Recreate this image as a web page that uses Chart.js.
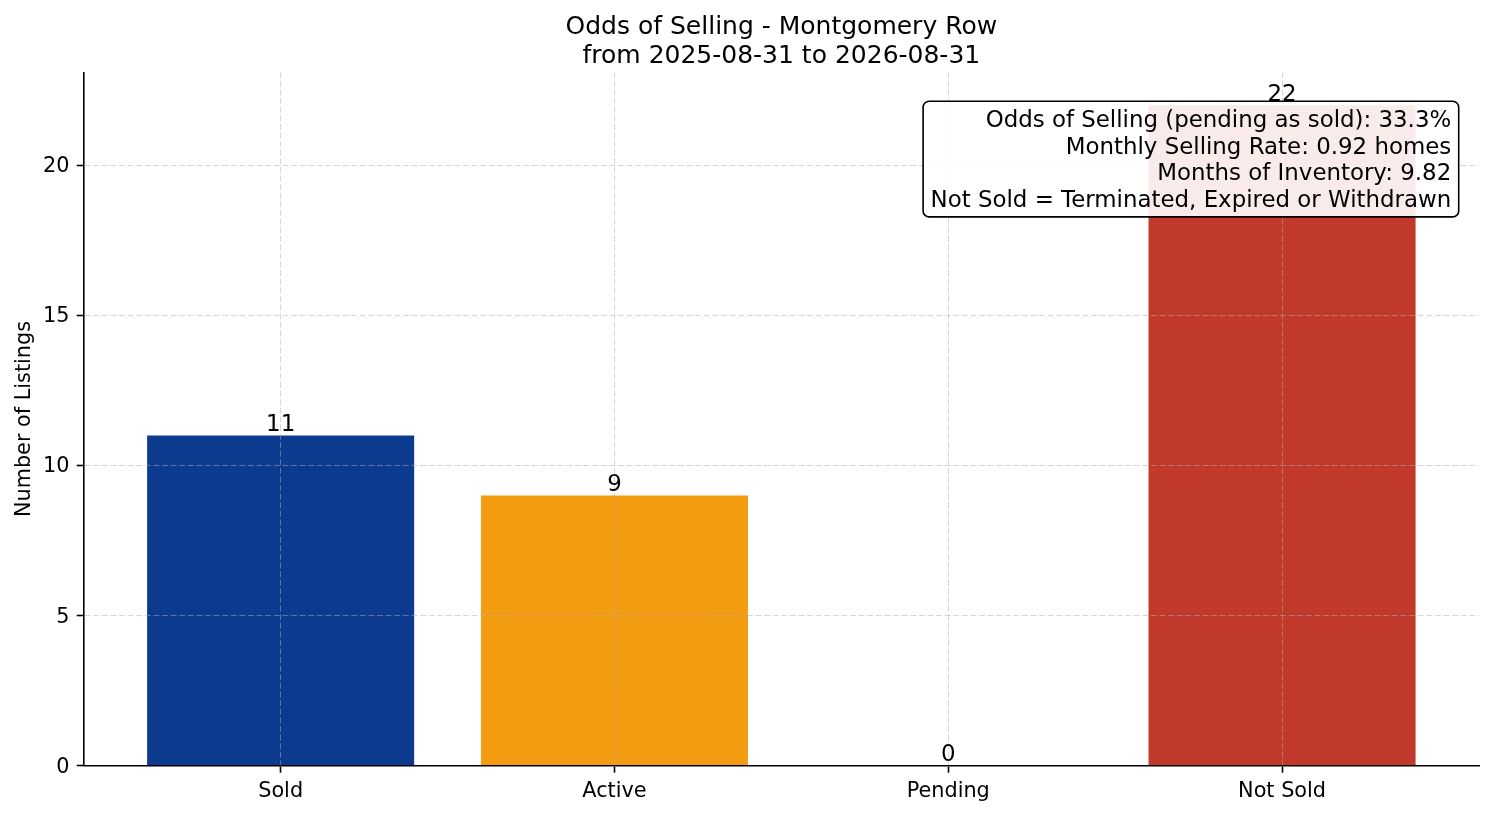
<!DOCTYPE html>
<html>
<head>
<meta charset="utf-8">
<script src="https://cdn.jsdelivr.net/npm/chart.js@4/dist/chart.umd.min.js"></script>
<style>
  html, body { margin: 0; padding: 0; background: #ffffff; }
  #wrap { width: 1494px; height: 816px; }
</style>
</head>
<body>
<div id="wrap"><canvas id="c" width="1494" height="816"></canvas></div>
<script>
const titleLines = ["Odds of Selling - Montgomery Row", "from 2025-08-31 to 2026-08-31"];
const categories = ["Sold", "Active", "Pending", "Not Sold"];
const counts = [11, 9, 0, 22];
const barColors = ["#0b3a8e", "#f39c12", "#7f8c8d", "#c0392b"];
const yTicks = [0, 5, 10, 15, 20];
const xTicks = [0, 1, 2, 3];
const infoLines = [
  "Odds of Selling (pending as sold): 33.3%",
  "Monthly Selling Rate: 0.92 homes",
  "Months of Inventory: 9.82",
  "Not Sold = Terminated, Expired or Withdrawn"
];
const yLabel = "Number of Listings";

const FONT = "'DejaVu Sans', 'Liberation Sans', sans-serif";

const overlayPlugin = {
  id: 'overlay',
  afterDraw(chart) {
    const ctx = chart.ctx;
    const meta = chart.getDatasetMeta(0);
    const area = chart.chartArea;
    ctx.save();
    // value labels
    ctx.font = "22.9px " + FONT;
    ctx.fillStyle = "#000";
    ctx.textAlign = "center";
    ctx.textBaseline = "alphabetic";
    meta.data.forEach((bar, i) => {
      ctx.fillText(String(counts[i]), bar.x, bar.y - 4.3);
    });
    // info box
    ctx.font = "22.9px " + FONT;
    let maxW = 0;
    infoLines.forEach(t => { maxW = Math.max(maxW, ctx.measureText(t).width); });
    const right = area.right - 20.3;
    const top = area.top + 28.9;
    const textRight = right - 7.5;
    const left = textRight - maxW - 7.5;
    const h = 115.7;
    ctx.beginPath();
    ctx.roundRect(left, top, right - left, h, 6);
    ctx.fillStyle = "rgba(255,255,255,0.9)";
    ctx.fill();
    ctx.lineWidth = 1.6;
    ctx.strokeStyle = "#000";
    ctx.stroke();
    ctx.fillStyle = "#000";
    ctx.textAlign = "right";
    infoLines.forEach((t, i) => {
      ctx.fillText(t, textRight, top + 25.7 + i * 26.67);
    });
    ctx.restore();
  }
};

new Chart(document.getElementById('c'), {
  type: 'bar',
  data: {
    datasets: [{
      data: counts.map((v, i) => ({ x: xTicks[i], y: v })),
      backgroundColor: barColors,
      borderWidth: 0,
      barPercentage: 0.8,
      categoryPercentage: 1.0
    }]
  },
  options: {
    responsive: false,
    animation: false,
    devicePixelRatio: 1,
    layout: { padding: { left: 0, right: 15, top: 0, bottom: 0 } },
    plugins: {
      legend: { display: false },
      tooltip: { enabled: false },
      title: {
        display: true,
        text: titleLines,
        fullSize: false,
        color: "#000",
        font: { family: FONT, size: 25, weight: 'normal', lineHeight: 1.152 },
        padding: { top: 13.45, bottom: 1.25 }
      }
    },
    scales: {
      x: {
        type: 'linear',
        min: -0.59,
        max: 3.59,
        offset: false,
        afterBuildTicks(scale) { scale.ticks = xTicks.map(v => ({ value: v })); },
        afterFit(scale) { scale.height = 50.3; },
        ticks: {
          color: "#000",
          font: { family: FONT, size: 20.8 },
          padding: 6.5,
          maxRotation: 0,
          autoSkip: false,
          callback: (v) => categories[v]
        },
        grid: {
          offset: false,
          color: "rgba(176,176,176,0.5)",
          lineWidth: 1,
          drawOnChartArea: true,
          drawTicks: true,
          tickLength: 7,
          tickColor: "#000",
          tickWidth: 1.6,
          z: 1
        },
        border: { display: true, color: "#000", width: 1.6, dash: [6, 2.6], z: 2 }
      },
      y: {
        type: 'linear',
        min: 0,
        max: 23.1,
        afterBuildTicks(scale) { scale.ticks = yTicks.map(v => ({ value: v })); },
        afterFit(scale) { scale.width = 83.7; },
        ticks: {
          color: "#000",
          font: { family: FONT, size: 20.8 },
          padding: 7.3,
          labelOffset: 1.5,
          callback: (v) => String(v)
        },
        grid: {
          color: "rgba(176,176,176,0.5)",
          lineWidth: 1,
          drawOnChartArea: true,
          drawTicks: true,
          tickLength: 7,
          tickColor: "#000",
          tickWidth: 1.6,
          z: 1
        },
        border: { display: true, color: "#000", width: 1.6, dash: [6, 2.6], z: 2 },
        title: {
          display: true,
          text: yLabel,
          color: "#000",
          font: { family: FONT, size: 20.8 },
          padding: { top: 12, bottom: 0 }
        }
      }
    }
  },
  plugins: [overlayPlugin]
});
</script>
</body>
</html>
